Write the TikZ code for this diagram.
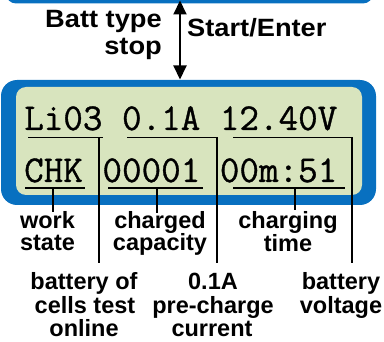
\documentclass[tikz,border=0pt]{standalone}
\usepackage{fontspec}
\newfontfamily\upfont{Liberation Sans}[FakeStretch=1.09]
\newfontfamily\lofont{Liberation Sans}
\newfontfamily\lcdfont{Latin Modern Mono}[FakeBold=0.9]
\usetikzlibrary{arrows.meta}
\definecolor{lcdblue}{HTML}{0870C0}
\definecolor{lcdgreen}{HTML}{D8E4BE}
\tikzset{
  uplbl/.style={inner sep=0pt, font=\upfont\bfseries\fontsize{25}{27}\selectfont},
  lolbl/.style={inner sep=0pt, anchor=base, font=\lofont\bfseries\fontsize{23.5}{23.5}\selectfont},
  lcd/.style={inner sep=0pt, anchor=base west, font=\lcdfont\fontsize{38}{38}\selectfont},
  lead/.style={line width=1.5pt, black},
  dblarrow/.style={line width=2pt, {Triangle[width=13pt,length=14pt]}-{Triangle[width=13pt,length=14pt]}}
}
\begin{document}
\begin{tikzpicture}[x=1pt,y=-1pt]
\useasboundingbox (0,0) rectangle (384,342);
% panels
\fill[lcdblue, rounded corners=10pt] (6,-20) rectangle (373,3.5);
\fill[lcdblue, rounded corners=16pt] (1,80) rectangle (376,205);
\fill[lcdgreen, rounded corners=10pt] (16,87) rectangle (362,195);
% arrow
\coordinate (atop) at (180,0.5);
\coordinate (abot) at (180,79.5);
\draw[dblarrow] (atop) -- (abot);
\node[uplbl, anchor=base east] (bt) at (162,28) {Batt type};
\node[uplbl, anchor=base east] (st) at (162,55) {stop};
\node[uplbl, anchor=base west] (se) at (187,37) {Start/Enter};
% LCD rows
\node[lcd] (row1) at (24,130) {Li03 0.1A 12.40V};
\node[lcd] (row2) at (24,182) {CHK 00001 00m:51};
% top-row underlines and leaders
\coordinate (u1a) at (28,137.5);  \coordinate (u1b) at (103,137.5);
\coordinate (u2a) at (127,137.5); \coordinate (u2b) at (217,137.5);
\coordinate (u3a) at (233,137.5); \coordinate (u3b) at (352,137.5);
\coordinate (v1) at (99,137.5);   \coordinate (e1) at (99,263);
\coordinate (e2) at (217,263);
\coordinate (e3) at (352,263);
\draw[lead] (u1a) -- (u1b);
\draw[lead] (v1) -- (e1);
\draw[lead] (u2a) -- (u2b) -- (e2);
\draw[lead] (u3a) -- (u3b) -- (e3);
% bottom-row underlines and leaders
\coordinate (b1a) at (25,188);  \coordinate (b1b) at (85,188);
\coordinate (b2a) at (108,188); \coordinate (b2b) at (203,188);
\coordinate (b3a) at (233,188); \coordinate (b3b) at (345,188);
\coordinate (w1) at (53,188);  \coordinate (f1) at (53,212);
\coordinate (w2) at (157,188); \coordinate (f2) at (157,213);
\coordinate (w3) at (295,188); \coordinate (f3) at (295,210);
\draw[lead] (b1a) -- (b1b);
\draw[lead] (b2a) -- (b2b);
\draw[lead] (b3a) -- (b3b);
\draw[lead] (w1) -- (f1);
\draw[lead] (w2) -- (f2);
\draw[lead] (w3) -- (f3);
% labels row 1
\node[lolbl] (ws1) at (47.5,229) {work};
\node[lolbl] (ws2) at (47.5,251) {state};
\node[lolbl] (cc1) at (160,229) {charged};
\node[lolbl] (cc2) at (160,251) {capacity};
\node[lolbl] (ct1) at (288,229) {charging};
\node[lolbl] (ct2) at (288,252) {time};
% labels row 2
\node[lolbl] (bo1) at (84,290) {battery of};
\node[lolbl] (bo2) at (85,313.5) {cells test};
\node[lolbl] (bo3) at (84,337) {online};
\node[lolbl] (pc1) at (213,290) {0.1A};
\node[lolbl] (pc2) at (213,313.5) {pre-charge};
\node[lolbl] (pc3) at (212,337) {current};
\node[lolbl] (bv1) at (341,290) {battery};
\node[lolbl] (bv2) at (341,313.5) {voltage};
\end{tikzpicture}
\end{document}
